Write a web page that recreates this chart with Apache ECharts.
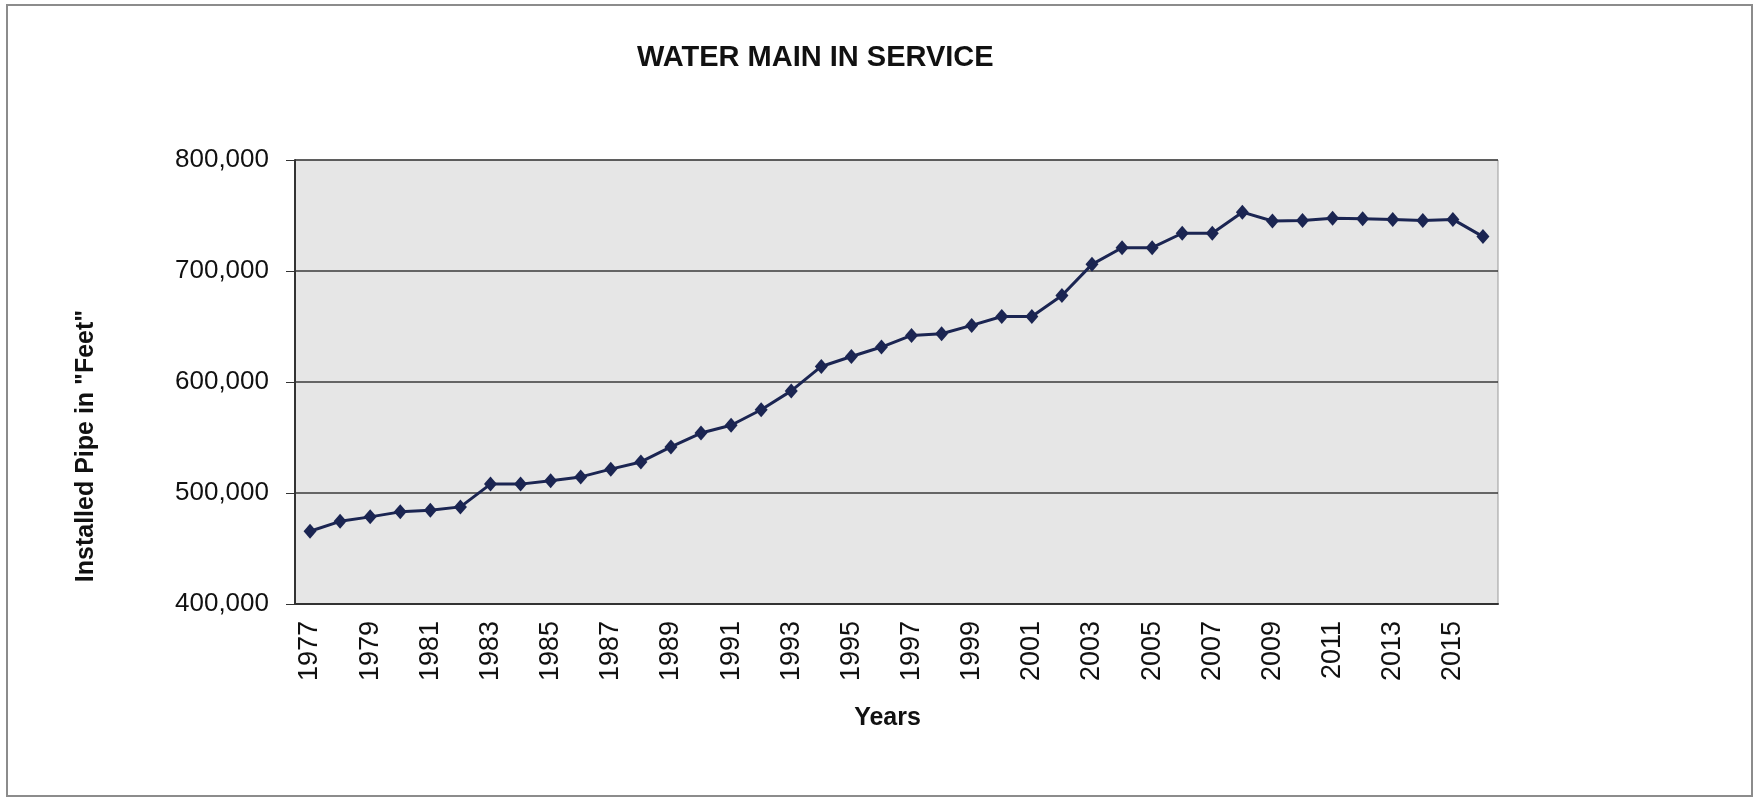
<!DOCTYPE html>
<html>
<head>
<meta charset="utf-8">
<title>Water Main In Service</title>
<script src="https://cdn.jsdelivr.net/npm/echarts@6/dist/echarts.min.js"></script>
<style>
  html, body { margin: 0; padding: 0; background: #fff; }
  #chart { width: 1756px; height: 798px; }
</style>
</head>
<body>
<div id="chart"></div>
<script>
// data
const years = [
  '1977', '1978', '1979', '1980', '1981', '1982', '1983', '1984', '1985', '1986',
  '1987', '1988', '1989', '1990', '1991', '1992', '1993', '1994', '1995', '1996',
  '1997', '1998', '1999', '2000', '2001', '2002', '2003', '2004', '2005', '2006',
  '2007', '2008', '2009', '2010', '2011', '2012', '2013', '2014', '2015', '2016'
]
const installedFeet = [
  465500, 474500, 478500, 483000, 484500, 487500, 508000, 508000, 511000, 514500,
  521500, 528000, 541500, 554000, 561000, 575000, 592000, 614000, 623000, 631500,
  642000, 643500, 651000, 659000, 659000, 678000, 706000, 721000, 721000, 734000,
  734000, 753000, 745000, 745500, 747500, 747000, 746500, 745500, 746500, 731000
]
const yTicks = { min: 400000, max: 800000, step: 100000 }

const font = 'Liberation Sans, Arial, sans-serif'
const chart = echarts.init(document.getElementById('chart'))

const option = {
  backgroundColor: '#ffffff',
  animation: false,
  graphic: [
    {
      type: 'rect',
      shape: { x: 7, y: 5, width: 1745, height: 791 },
      style: { fill: 'none', stroke: '#8c8c8c', lineWidth: 2 },
      silent: true
    }
  ],
  title: {
    text: 'WATER MAIN IN SERVICE',
    left: 632,
    top: 38,
    textStyle: { fontFamily: font, fontSize: 29, fontWeight: 'bold', color: '#111' }
  },
  grid: {
    left: 295,
    top: 160,
    right: 258,
    bottom: 194,
    show: true,
    backgroundColor: '#e6e6e6',
    borderColor: '#9a9a9a',
    borderWidth: 1
  },
  xAxis: {
    type: 'category',
    data: years,
    boundaryGap: true,
    name: 'Years',
    nameLocation: 'middle',
    nameGap: 102,
    nameTextStyle: { fontFamily: font, fontSize: 25, fontWeight: 'bold', color: '#111', padding: [0, 18, 0, 0] },
    axisLine: { lineStyle: { color: '#333', width: 2 } },
    axisTick: { interval: 1, length: 7, lineStyle: { color: '#333' } },
    axisLabel: {
      interval: 1,
      rotate: 90,
      margin: 17,
      fontFamily: font,
      fontSize: 27,
      color: '#111'
    },
    splitLine: { show: false }
  },
  yAxis: {
    type: 'value',
    min: yTicks.min,
    max: yTicks.max,
    interval: yTicks.step,
    name: 'Installed Pipe in "Feet"',
    nameLocation: 'middle',
    nameGap: 196,
    nameTextStyle: { fontFamily: font, fontSize: 25, fontWeight: 'bold', color: '#111', padding: [0, 128, 0, 0] },
    axisLine: { show: true, lineStyle: { color: '#333', width: 2 } },
    axisTick: { show: true, length: 9, lineStyle: { color: '#333' } },
    axisLabel: {
      margin: 26,
      fontFamily: font,
      fontSize: 26,
      color: '#111',
      formatter: v => v.toLocaleString('en-US')
    },
    splitLine: { show: true, lineStyle: { color: '#3a3a3a', width: 1.5 } }
  },
  series: [
    {
      name: 'Installed Pipe',
      type: 'line',
      data: installedFeet,
      symbol: 'diamond',
      symbolSize: [13, 15],
      lineStyle: { color: '#1b2552', width: 3 },
      itemStyle: { color: '#1b2552' }
    }
  ]
}

chart.setOption(option)
</script>
</body>
</html>
